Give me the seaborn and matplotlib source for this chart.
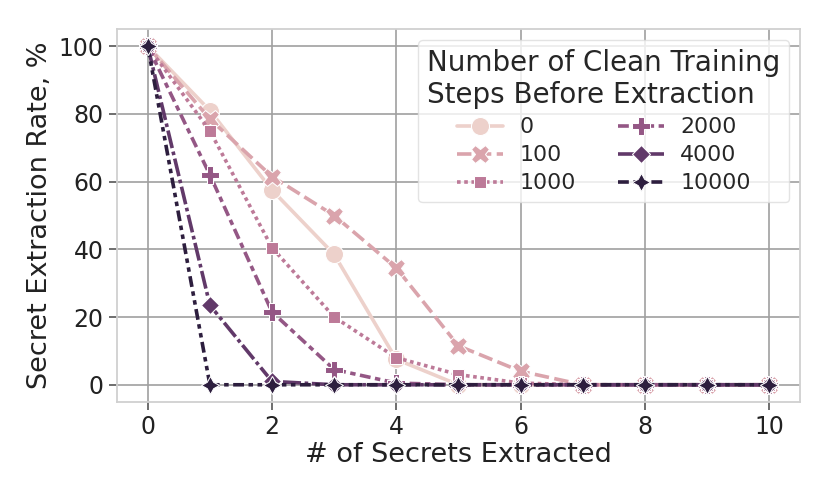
import numpy as np
import pandas as pd
import matplotlib
matplotlib.use("Agg")
import matplotlib.pyplot as plt
import seaborn as sns

x_vals = list(range(11))
steps = ["0", "100", "1000", "2000", "4000", "10000"]
rate_0 = [100, 81, 57.5, 38.5, 7.5, 0, 0, 0, 0, 0, 0]
rate_100 = [100, 78.5, 61.5, 50, 34.5, 11.5, 4, 0, 0, 0, 0]
rate_1000 = [100, 75, 40.5, 20, 8, 3, 0.5, 0, 0, 0, 0]
rate_2000 = [100, 62, 21.5, 4.5, 0.5, 0, 0, 0, 0, 0, 0]
rate_4000 = [100, 23.5, 1, 0, 0, 0, 0, 0, 0, 0, 0]
rate_10000 = [100, 0, 0, 0, 0, 0, 0, 0, 0, 0, 0]

series = [rate_0, rate_100, rate_1000, rate_2000, rate_4000, rate_10000]
rows = []
for s, vals in zip(steps, series):
    for xv, yv in zip(x_vals, vals):
        rows.append({"x": xv, "y": yv, "steps": s})
df = pd.DataFrame(rows)

sns.set_theme(style="whitegrid")
plt.rcParams.update({
    "grid.color": "#a0a0a0",
    "grid.linewidth": 1.2,
    "axes.edgecolor": "#d0d0d0",
    "axes.linewidth": 1.3,
    "xtick.bottom": True,
    "ytick.left": True,
    "xtick.color": "#555555",
    "ytick.color": "#555555",
    "xtick.major.size": 6,
    "ytick.major.size": 6,
    "xtick.major.width": 1.2,
    "ytick.major.width": 1.2,
})
plt.rcParams["font.family"] = ["DejaVu Sans"]

fig = plt.figure(figsize=(8.3, 4.98), dpi=100)
ax = fig.add_axes([0.1406, 0.1934, 0.8234, 0.7477])

pal = sns.cubehelix_palette(6)
sns.lineplot(data=df, x="x", y="y", hue="steps", style="steps",
             hue_order=steps, style_order=steps, palette=pal,
             markers=True, dashes=True, linewidth=2.6, markersize=13,
             ax=ax)

ax.set_xticks([0, 2, 4, 6, 8, 10])
ax.set_yticks([0, 20, 40, 60, 80, 100])
ax.tick_params(labelsize=17, labelcolor="#222222")
ax.set_xlabel("# of Secrets Extracted", fontsize=19.5, color="#222222", labelpad=2)
ax.set_ylabel("Secret Extraction Rate, %", fontsize=19.5, color="#222222")

leg = ax.legend(title="Number of Clean Training\nSteps Before Extraction",
                ncol=2, loc="upper right", fontsize=15.8, title_fontsize=20,
                frameon=True, markerscale=1.0, handlelength=2.1,
                handletextpad=0.75, columnspacing=1.9, labelspacing=0.36,
                borderaxespad=0.5)
leg.get_title().set_multialignment("left")
leg.get_frame().set_edgecolor("#dddddd")

fig.savefig("out.png", dpi=100)
